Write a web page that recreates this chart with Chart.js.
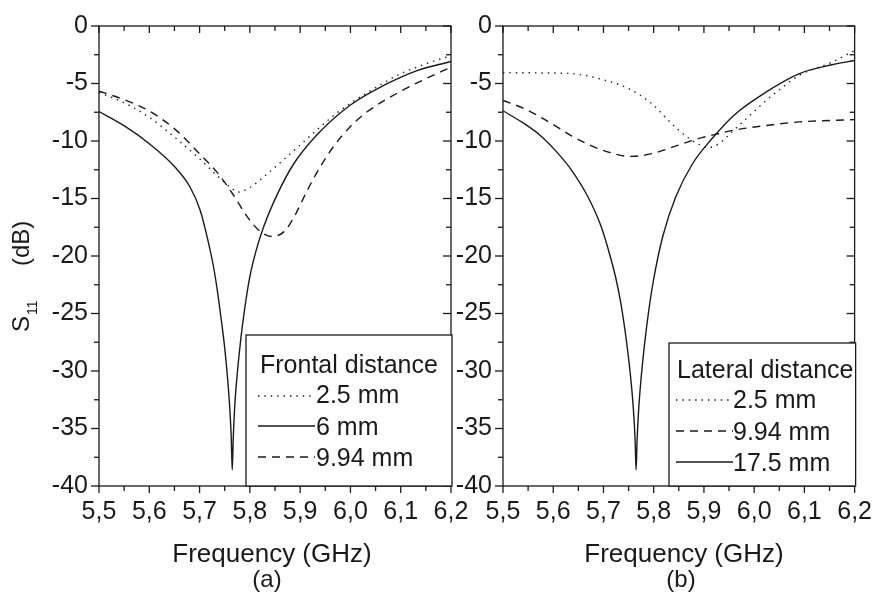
<!DOCTYPE html>
<html>
<head>
<meta charset="utf-8">
<script src="https://cdn.jsdelivr.net/npm/chart.js@4.4.1/dist/chart.umd.min.js"></script>
<style>
  html, body { margin: 0; padding: 0; background: #ffffff; }
  body { width: 883px; height: 598px; overflow: hidden; position: relative; }
  #wa { position: absolute; left: 0; top: 0; width: 480px; height: 598px; }
  #wb { position: absolute; left: 440px; top: 0; width: 443px; height: 598px; }
</style>
</head>
<body>
<div id="wa"><canvas id="ca"></canvas></div>
<div id="wb"><canvas id="cb"></canvas></div>
<script>
// ---------------- DATA ----------------
const xTickValues = [5.5,5.55,5.6,5.65,5.7,5.75,5.8,5.85,5.9,5.95,6.0,6.05,6.1,6.15,6.2];
const yTickValues = [-40,-37.5,-35,-32.5,-30,-27.5,-25,-22.5,-20,-17.5,-15,-12.5,-10,-7.5,-5,-2.5,0];

// Panel (a) - frontal distance
const aLabels = ['2.5 mm', '6 mm', '9.94 mm'];
const aTitle = 'Frontal distance';
const aFreq25 = [5.5,5.552,5.602,5.652,5.701,5.735,5.768,5.776,5.801,5.834,5.868,5.901,5.934,5.967,6.0,6.034,6.1,6.15,6.2];
const aS25    = [-5.78,-6.72,-8.01,-9.73,-11.59,-13.02,-14.25,-14.45,-14.02,-12.88,-11.59,-10.30,-9.01,-7.78,-6.72,-5.78,-4.15,-3.29,-2.58];
const aFreq6  = [5.5,5.552,5.602,5.652,5.681,5.701,5.718,5.728,5.736,5.743,5.75,5.756,5.76,5.763,5.765,5.767,5.77,5.775,5.782,5.79,5.8,5.812,5.828,5.855,5.887,5.934,6.0,6.067,6.134,6.2];
const aS6     = [-7.44,-8.73,-10.3,-12.3,-14.0,-16.0,-18.9,-21.0,-23.2,-25.5,-28.0,-30.8,-33.2,-35.8,-38.6,-35.8,-33.0,-30.2,-27.2,-24.5,-21.8,-19.6,-17.4,-14.6,-12.0,-9.44,-6.87,-5.15,-3.86,-3.09];
const aFreq994 = [5.5,5.552,5.602,5.652,5.701,5.735,5.768,5.795,5.821,5.844,5.868,5.888,5.914,5.941,5.967,6.0,6.034,6.1,6.15,6.2];
const aS994    = [-5.67,-6.44,-7.44,-9.01,-11.16,-12.73,-14.74,-16.6,-17.88,-18.31,-17.88,-16.6,-14.31,-12.16,-10.45,-8.73,-7.44,-5.67,-4.58,-3.58];

// Panel (b) - lateral distance
const bLabels = ['2.5 mm', '9.94 mm', '17.5 mm'];
const bTitle = 'Lateral distance';
const bFreq25 = [5.5,5.572,5.637,5.669,5.702,5.734,5.767,5.799,5.831,5.864,5.896,5.909,5.928,5.961,5.993,6.025,6.058,6.09,6.155,6.2];
const bS25    = [-4.05,-4.08,-4.14,-4.34,-4.71,-5.14,-5.85,-6.86,-8.29,-9.57,-10.43,-10.57,-10.28,-9.0,-7.71,-6.43,-5.28,-4.28,-3.14,-2.14];
const bFreq994 = [5.5,5.54,5.572,5.605,5.637,5.669,5.702,5.754,5.799,5.831,5.864,5.896,5.928,5.961,6.025,6.09,6.2];
const bS994    = [-6.48,-7.14,-7.86,-8.71,-9.57,-10.28,-10.86,-11.34,-11.08,-10.63,-10.14,-9.71,-9.37,-9.05,-8.65,-8.34,-8.14];
const bFreq175 = [5.5,5.54,5.572,5.605,5.637,5.669,5.695,5.712,5.725,5.735,5.743,5.75,5.756,5.76,5.763,5.765,5.767,5.77,5.775,5.782,5.79,5.8,5.818,5.844,5.877,5.915,5.961,6.025,6.09,6.155,6.2];
const bS175    = [-7.37,-8.43,-9.43,-10.86,-12.57,-14.85,-17.4,-19.8,-22.0,-24.2,-26.5,-28.9,-31.4,-33.6,-36.0,-38.6,-36.0,-33.4,-30.6,-27.6,-24.8,-22.0,-18.3,-14.85,-12.0,-9.85,-7.71,-5.71,-4.14,-3.37,-3.0];

// ---------------- STYLE ----------------
const INK = '#1a1a1a';
const FONT = "'Liberation Sans', Arial, Helvetica, sans-serif";
const DOTTED = [1.4, 5];
const DASHED = [8, 6];
Chart.defaults.font.family = FONT;
Chart.defaults.color = INK;

function pts(fs, vs) { return fs.map((f, i) => ({ x: f, y: vs[i] })); }
function ds(label, fs, vs, dash) {
  return {
    label, data: pts(fs, vs), borderColor: INK, backgroundColor: INK,
    borderWidth: 1.4, borderDash: dash, pointRadius: 0,
    cubicInterpolationMode: 'monotone', fill: false
  };
}
function isMajorX(v) { return Math.abs(v * 10 - Math.round(v * 10)) < 1e-6; }
function isMajorY(v) { return Math.abs(v / 5 - Math.round(v / 5)) < 1e-6; }

const framePlugin = {
  id: 'frame',
  afterDraw(chart, args, o) {
    const ctx = chart.ctx;
    const { left, right, top, bottom } = chart.chartArea;
    const xs = chart.scales.x, ys = chart.scales.y;
    ctx.save();
    ctx.strokeStyle = INK;
    ctx.lineWidth = 1.3;
    ctx.lineCap = 'butt';
    const seg = (x0, y0, x1, y1) => { ctx.beginPath(); ctx.moveTo(x0, y0); ctx.lineTo(x1, y1); ctx.stroke(); };
    ctx.strokeRect(left, top, right - left, bottom - top);
    xs.ticks.forEach(t => {
      const px = xs.getPixelForValue(t.value);
      const L = isMajorX(t.value) ? 7 : 5;
      seg(px, bottom, px, bottom + L);
      seg(px, top, px, top + L);
    });
    ys.ticks.forEach(t => {
      const py = ys.getPixelForValue(t.value);
      const L = isMajorY(t.value) ? 8 : 5;
      seg(left - L, py, left, py);
      seg(right - L, py, right, py);
    });
    // legend
    const lg = o.legend;
    ctx.fillStyle = '#ffffff';
    const bx0 = lg.boxLeft, by0 = lg.boxTop, bx1 = right + 1, by1 = bottom;
    ctx.fillRect(bx0, by0, bx1 - bx0, by1 - by0);
    ctx.strokeRect(bx0, by0, bx1 - bx0, by1 - by0);
    ctx.fillStyle = INK;
    ctx.font = `${lg.fontSize}px ${FONT}`;
    ctx.textAlign = 'left';
    ctx.textBaseline = 'alphabetic';
    ctx.fillText(lg.title, lg.titleX, lg.titleBase);
    chart.data.datasets.forEach((d, i) => {
      ctx.save();
      ctx.lineWidth = d.borderWidth;
      ctx.setLineDash(d.borderDash || []);
      seg(lg.lineX0, lg.lineY[i], lg.lineX1, lg.lineY[i]);
      ctx.restore();
      ctx.fillText(d.label, lg.textX, lg.rowBase[i]);
    });
    // x title and panel tag
    ctx.textAlign = 'center';
    ctx.font = `${o.titleSize}px ${FONT}`;
    ctx.fillText('Frequency (GHz)', o.xTitleX, o.xTitleBase);
    ctx.font = `${o.tagSize}px ${FONT}`;
    ctx.fillText(o.tag, o.tagX, o.tagBase);
    // y title
    if (o.yTitle) {
      ctx.save();
      ctx.translate(o.yTitle.x, o.yTitle.y);
      ctx.rotate(-Math.PI / 2);
      ctx.textAlign = 'left';
      ctx.font = `${o.yTitle.size}px ${FONT}`;
      ctx.fillText('S', 0, 0);
      ctx.font = `${o.yTitle.subSize}px ${FONT}`;
      ctx.fillText('11', o.yTitle.subX, o.yTitle.subDy);
      ctx.font = `${o.yTitle.size}px ${FONT}`;
      ctx.fillText('(dB)', o.yTitle.unitX, 0);
      ctx.restore();
    }
    ctx.restore();
  }
};

function makeChart(id, datasets, cfg) {
  return new Chart(document.getElementById(id), {
    type: 'line',
    data: { datasets },
    options: {
      responsive: true, maintainAspectRatio: false, animation: false,
      layout: { padding: { top: 20, right: cfg.padRight, left: 0, bottom: 0 } },
      plugins: { legend: { display: false }, tooltip: { enabled: false }, frame: cfg.frame },
      scales: {
        x: {
          type: 'linear', min: 5.5, max: 6.2,
          afterBuildTicks(s) { s.ticks = xTickValues.map(v => ({ value: v })); },
          afterFit(s) { s.height = 112; },
          ticks: {
            autoSkip: false, maxRotation: 0, padding: 11, color: INK,
            font: { size: 25 },
            callback: v => isMajorX(v) ? v.toFixed(1).replace('.', ',') : ''
          },
          grid: { display: false, drawTicks: false },
          border: { display: false }
        },
        y: {
          type: 'linear', min: -40, max: 0,
          afterBuildTicks(s) { s.ticks = yTickValues.map(v => ({ value: v })); },
          afterFit(s) { s.width = cfg.yWidth; },
          ticks: {
            autoSkip: false, padding: 11, color: INK,
            font: { size: 25 },
            callback: v => isMajorY(v) ? String(Math.round(v)) : ''
          },
          grid: { display: false, drawTicks: false },
          border: { display: false }
        }
      }
    },
    plugins: [framePlugin]
  });
}

makeChart('ca', [
  ds(aLabels[0], aFreq25, aS25, DOTTED),
  ds(aLabels[1], aFreq6, aS6, []),
  ds(aLabels[2], aFreq994, aS994, DASHED)
], {
  yWidth: 99, padRight: 29,
  frame: {
    legend: { boxLeft: 246, boxTop: 335, fontSize: 25, title: aTitle, titleX: 260, titleBase: 373,
      lineX0: 258, lineX1: 315, lineY: [396, 426, 457], textX: 316, rowBase: [403, 435, 466] },
    titleSize: 26, xTitleX: 272, xTitleBase: 562, tag: '(a)', tagSize: 24, tagX: 267, tagBase: 587,
    yTitle: { x: 29, y: 332, size: 24, subSize: 14, subX: 17, subDy: 8, unitX: 66 }
  }
});

makeChart('cb', [
  ds(bLabels[0], bFreq25, bS25, DOTTED),
  ds(bLabels[1], bFreq994, bS994, DASHED),
  ds(bLabels[2], bFreq175, bS175, [])
], {
  yWidth: 63, padRight: 20,
  frame: {
    legend: { boxLeft: 229, boxTop: 343, fontSize: 25, title: bTitle, titleX: 237, titleBase: 378,
      lineX0: 236, lineX1: 293, lineY: [400, 431, 462], textX: 293, rowBase: [408, 440, 471] },
    titleSize: 26, xTitleX: 244, xTitleBase: 562, tag: '(b)', tagSize: 24, tagX: 241, tagBase: 587,
    yTitle: null
  }
});
</script>
</body>
</html>
